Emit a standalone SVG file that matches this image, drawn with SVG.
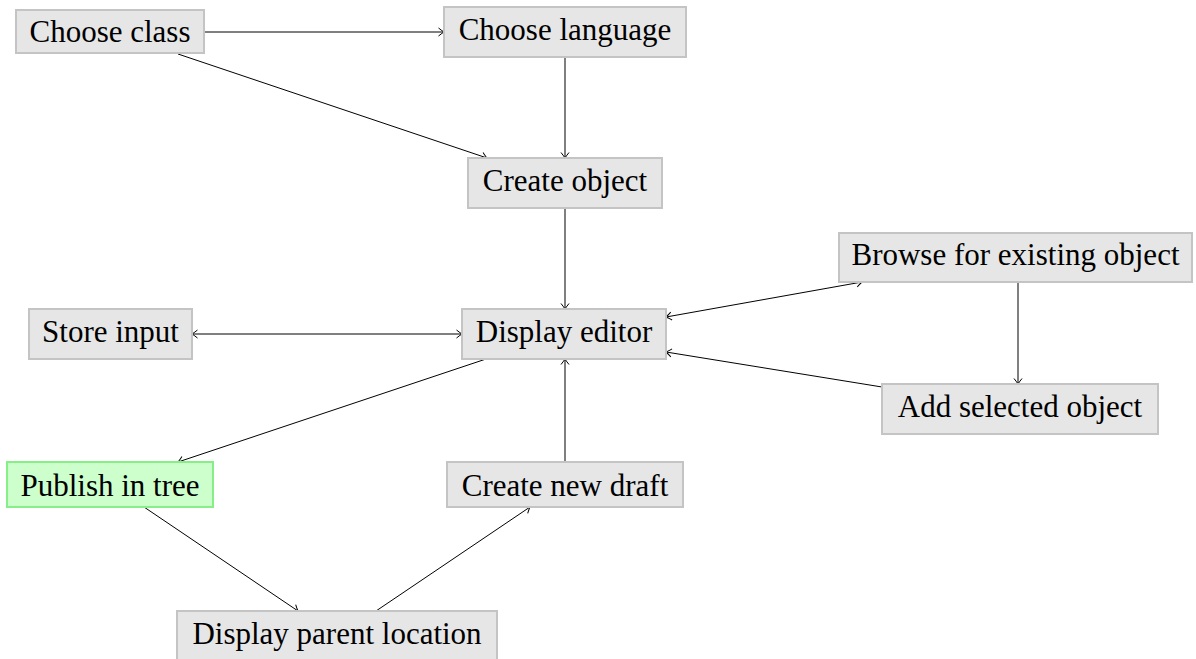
<svg xmlns="http://www.w3.org/2000/svg" width="1196" height="659" viewBox="0 0 1196 659">
<style>
.box{fill:#e6e6e6;stroke:#c4c4c4;stroke-width:2}
.pub{fill:#ccffcc;stroke:#88ee88;stroke-width:2}
text{font-family:"Liberation Serif","Times New Roman",serif;font-size:31px;fill:#000;text-anchor:middle}
.edge{stroke:#000;stroke-width:1;fill:none}
.a{marker-end:url(#to)}
.b{marker-start:url(#to);marker-end:url(#to)}
</style>
<defs>
<marker id="to" viewBox="-8 -6 10 12" refX="0" refY="0" markerWidth="10" markerHeight="12" markerUnits="userSpaceOnUse" orient="auto-start-reverse">
<path d="M-5.5,-4 Q-1.5,-0.8 0,0 Q-1.5,0.8 -5.5,4" stroke="#000" stroke-width="1" fill="none"/>
</marker>
</defs>
<g id="connectors">
<line class="edge a" x1="204" y1="32" x2="444" y2="32"/>
<line class="edge a" x1="178" y1="54" x2="487" y2="158"/>
<line class="edge a" x1="565" y1="57" x2="565" y2="158"/>
<line class="edge a" x1="565" y1="208" x2="565" y2="309"/>
<line class="edge b" x1="192" y1="334" x2="462" y2="334"/>
<line class="edge b" x1="666" y1="317" x2="862" y2="282"/>
<line class="edge a" x1="1018" y1="282" x2="1018" y2="384"/>
<line class="edge a" x1="882" y1="387" x2="666" y2="352"/>
<line class="edge a" x1="486" y1="359" x2="178" y2="462"/>
<line class="edge a" x1="565" y1="462" x2="565" y2="359"/>
<line class="edge a" x1="144" y1="507" x2="298" y2="611"/>
<line class="edge a" x1="376" y1="611" x2="530" y2="507"/>
</g>
<g id="choose-class"><rect class="box" x="16" y="10" width="188" height="43"/><text x="110" y="42">Choose class</text></g>
<g id="choose-language"><rect class="box" x="444" y="7" width="242" height="50"/><text x="565" y="40">Choose language</text></g>
<g id="create-object"><rect class="box" x="468" y="158" width="194" height="50"/><text x="565" y="191">Create object</text></g>
<g id="display-editor"><rect class="box" x="462" y="309" width="204" height="50"/><text x="564" y="342">Display editor</text></g>
<g id="store-input"><rect class="box" x="29" y="309" width="163" height="50"/><text x="110.5" y="342">Store input</text></g>
<g id="browse"><rect class="box" x="839" y="233" width="353" height="49"/><text x="1015.5" y="265">Browse for existing object</text></g>
<g id="add-selected"><rect class="box" x="882" y="384" width="276" height="50"/><text x="1020" y="417">Add selected object</text></g>
<g id="publish"><rect class="pub" x="7" y="462" width="206" height="45"/><text x="110" y="496">Publish in tree</text></g>
<g id="create-draft"><rect class="box" x="447" y="462" width="236" height="45"/><text x="565" y="496">Create new draft</text></g>
<g id="display-parent"><rect class="box" x="177" y="611" width="320" height="50"/><text x="337" y="644">Display parent location</text></g>
</svg>
